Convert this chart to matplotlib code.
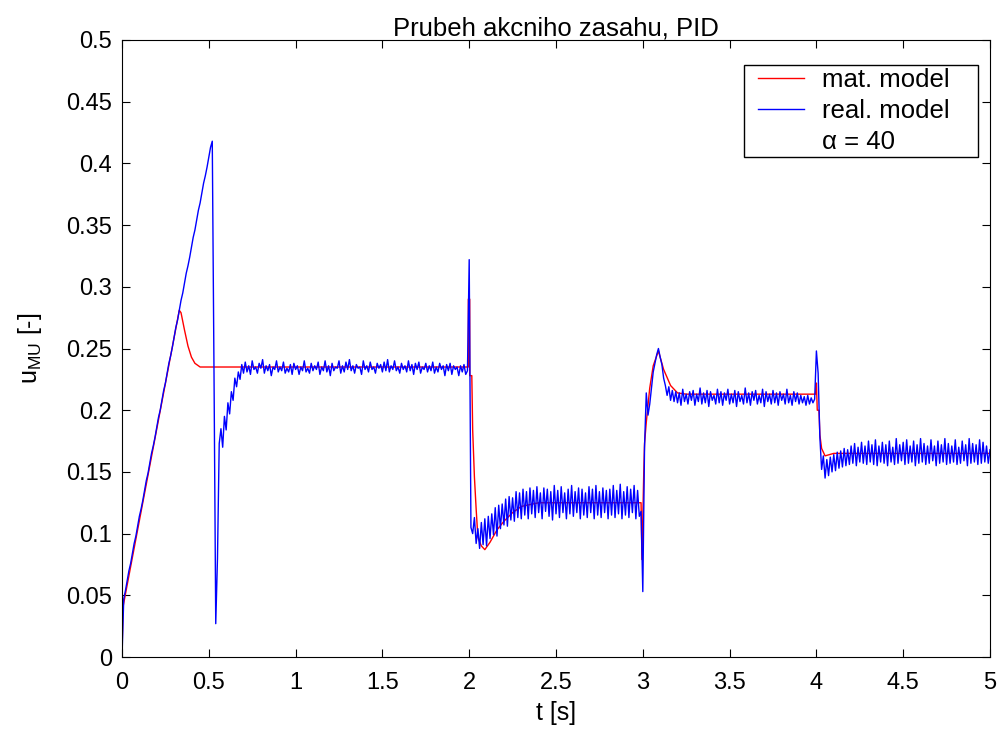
import numpy as np
import matplotlib
matplotlib.use('Agg')
import matplotlib.pyplot as plt
from matplotlib.lines import Line2D
from matplotlib.patches import Rectangle

plt.rcParams['font.family'] = ['Liberation Sans', 'DejaVu Sans']
plt.rcParams['mathtext.fontset'] = 'custom'
plt.rcParams['mathtext.rm'] = 'Liberation Sans'

# mat. model (red) - (t, u) pairs
red_t = [0.0, 0.005, 0.33, 0.34, 0.36, 0.38, 0.40, 0.42, 0.45, 1.995, 1.995, 2.003, 2.003, 2.015,
         2.02, 2.03, 2.04, 2.05, 2.07, 2.09, 2.12, 2.16, 2.2, 2.25, 2.3, 2.4, 2.99, 2.995, 3.005,
         3.01, 3.02, 3.04, 3.06, 3.09, 3.12, 3.16, 3.2, 3.25, 3.995, 4.0, 4.005, 4.015, 4.02, 4.03,
         4.05, 4.1, 5.0]
red_u = [0.0, 0.04, 0.281, 0.279, 0.265, 0.252, 0.243, 0.238, 0.235, 0.235, 0.29, 0.29, 0.228, 0.228,
         0.184, 0.146, 0.12, 0.097, 0.090, 0.087, 0.093, 0.103, 0.110, 0.117, 0.122, 0.125, 0.125, 0.079, 0.146,
         0.173, 0.19, 0.218, 0.236, 0.248, 0.233, 0.22, 0.214, 0.213, 0.213, 0.222, 0.2, 0.2, 0.18, 0.169,
         0.163, 0.165, 0.165]

# real. model (blue) - sampled every 0.01 s
ramp = [0.000, 0.047, 0.054, 0.062, 0.070, 0.076, 0.084, 0.092, 0.098, 0.106,
        0.114, 0.120, 0.127, 0.135, 0.143, 0.149, 0.157, 0.165, 0.171, 0.178,
        0.186, 0.194, 0.200, 0.208, 0.216, 0.222, 0.230, 0.238, 0.244, 0.251,
        0.259, 0.267, 0.273, 0.281, 0.289, 0.295, 0.303, 0.311, 0.317, 0.324,
        0.332, 0.340, 0.346, 0.354, 0.362, 0.368, 0.376, 0.384, 0.390, 0.397,
        0.405, 0.413, 0.418]
drop = [0.230, 0.027, 0.080, 0.173, 0.185, 0.170, 0.195, 0.184, 0.206, 0.197,
        0.215, 0.208, 0.226, 0.219, 0.231, 0.225, 0.237, 0.230]
steady1 = [0.239, 0.231, 0.236, 0.229, 0.240, 0.233, 0.235, 0.230, 0.238, 0.234,
           0.241, 0.230, 0.236, 0.232, 0.237, 0.228, 0.235, 0.233, 0.240, 0.231,
           0.235, 0.232, 0.239, 0.230, 0.234, 0.231, 0.237, 0.229, 0.238, 0.233,
           0.236, 0.229, 0.235, 0.232, 0.240, 0.231, 0.234, 0.230, 0.238, 0.232,
           0.236, 0.233, 0.239, 0.229, 0.235, 0.232, 0.240, 0.231, 0.236, 0.228,
           0.238, 0.232, 0.235, 0.234, 0.240, 0.230, 0.236, 0.231, 0.239, 0.233,
           0.241, 0.232, 0.236, 0.230, 0.237, 0.234, 0.235, 0.229, 0.240, 0.233,
           0.236, 0.231, 0.239, 0.233, 0.235, 0.230, 0.238, 0.234, 0.237, 0.231,
           0.239, 0.232, 0.241, 0.231, 0.236, 0.233, 0.240, 0.232, 0.235, 0.230,
           0.238, 0.233, 0.236, 0.231, 0.240, 0.232, 0.237, 0.229, 0.238, 0.233,
           0.239, 0.230, 0.235, 0.233, 0.238, 0.231, 0.236, 0.232, 0.239, 0.230,
           0.235, 0.231, 0.238, 0.233, 0.236, 0.228, 0.237, 0.232, 0.238, 0.229,
           0.236, 0.233, 0.235, 0.228, 0.236, 0.231, 0.237, 0.229, 0.232]
step2 = [0.322,
         0.105, 0.100, 0.113, 0.092, 0.104, 0.088, 0.109, 0.091, 0.112, 0.090,
         0.114, 0.096, 0.116, 0.099, 0.121, 0.098, 0.123, 0.104, 0.124, 0.107,
         0.128, 0.106, 0.130, 0.111, 0.129, 0.110, 0.134, 0.113, 0.133, 0.112,
         0.136, 0.115, 0.134, 0.112, 0.137, 0.116, 0.135, 0.113, 0.138, 0.117,
         0.133, 0.112, 0.137, 0.118, 0.136, 0.114, 0.134, 0.111, 0.139, 0.116,
         0.135, 0.113, 0.138, 0.117, 0.133, 0.112, 0.136, 0.116, 0.139, 0.114,
         0.134, 0.117, 0.137, 0.112, 0.136, 0.115, 0.133, 0.113, 0.138, 0.117,
         0.136, 0.112, 0.139, 0.115, 0.134, 0.113, 0.137, 0.117, 0.135, 0.112,
         0.136, 0.115, 0.139, 0.113, 0.135, 0.116, 0.140, 0.112, 0.134, 0.115,
         0.138, 0.113, 0.136, 0.117, 0.139, 0.112, 0.135, 0.114, 0.118]
step3 = [0.053,
         0.170, 0.214, 0.196, 0.205, 0.218, 0.231, 0.238, 0.245, 0.250, 0.243,
         0.237, 0.226, 0.220, 0.212, 0.219, 0.208, 0.216, 0.207, 0.215, 0.206,
         0.214, 0.204, 0.217, 0.207, 0.213, 0.205, 0.215, 0.208, 0.216, 0.204,
         0.213, 0.207, 0.218, 0.205, 0.214, 0.206, 0.216, 0.203, 0.215, 0.208,
         0.212, 0.205, 0.217, 0.206, 0.215, 0.204, 0.214, 0.208, 0.217, 0.205,
         0.213, 0.206, 0.216, 0.203, 0.215, 0.207, 0.212, 0.205, 0.218, 0.206,
         0.214, 0.204, 0.215, 0.208, 0.216, 0.205, 0.212, 0.206, 0.217, 0.203,
         0.215, 0.207, 0.213, 0.205, 0.216, 0.206, 0.214, 0.204, 0.215, 0.208,
         0.213, 0.205, 0.217, 0.206, 0.212, 0.204, 0.215, 0.207, 0.214, 0.205,
         0.212, 0.206, 0.211, 0.204, 0.212, 0.205, 0.210, 0.206, 0.209]
step4 = [0.248,
         0.230, 0.178, 0.152, 0.163, 0.145, 0.160, 0.147, 0.162, 0.150, 0.164,
         0.151, 0.166, 0.153, 0.167, 0.154, 0.169, 0.155, 0.168, 0.156, 0.171,
         0.157, 0.173, 0.155, 0.170, 0.158, 0.174, 0.157, 0.171, 0.156, 0.175,
         0.158, 0.172, 0.156, 0.176, 0.155, 0.171, 0.158, 0.174, 0.157, 0.172,
         0.155, 0.175, 0.158, 0.170, 0.156, 0.177, 0.157, 0.172, 0.159, 0.174,
         0.156, 0.176, 0.157, 0.171, 0.158, 0.175, 0.155, 0.172, 0.157, 0.177,
         0.158, 0.173, 0.156, 0.171, 0.157, 0.176, 0.159, 0.171, 0.155, 0.175,
         0.157, 0.172, 0.158, 0.177, 0.156, 0.173, 0.157, 0.171, 0.158, 0.176,
         0.156, 0.170, 0.157, 0.175, 0.159, 0.172, 0.155, 0.177, 0.157, 0.173,
         0.158, 0.172, 0.156, 0.176, 0.157, 0.174, 0.158, 0.171, 0.157, 0.168]

blue_u = ramp + drop + steady1 + step2 + step3 + step4
blue_t = np.arange(len(blue_u)) * 0.01

x_ticks = [0, 0.5, 1, 1.5, 2, 2.5, 3, 3.5, 4, 4.5, 5]
y_ticks = [0, 0.05, 0.1, 0.15, 0.2, 0.25, 0.3, 0.35, 0.4, 0.45, 0.5]
legend_labels = ['mat. model', 'real. model', 'α = 40']

fig = plt.figure(figsize=(10.03, 7.29), dpi=100)
ax = fig.add_axes([122/1003, 1 - 657/729, (990-122)/1003, (657-40)/729])

ax.plot(red_t, red_u, color='#ff0000', lw=1.0)
ax.plot(blue_t, blue_u, color='#0000ff', lw=1.0)

ax.set_xlim(0, 5)
ax.set_ylim(0, 0.5)
ax.set_xticks(x_ticks)
ax.set_xticklabels([('%g' % v) for v in x_ticks])
ax.set_yticks(y_ticks)
ax.set_yticklabels([('%g' % v) for v in y_ticks])
ax.tick_params(direction='in', length=6, width=0.8, labelsize=17, top=True, right=True)
ax.tick_params(axis='y', pad=7)
ax.tick_params(axis='x', pad=11)

ax.set_title('Prubeh akcniho zasahu, PID', fontsize=18.5, pad=3)
ax.set_xlabel('t [s]', fontsize=18, labelpad=5)
ax.set_ylabel(r'u$_{\mathrm{MU}}$ [-]', fontsize=18, labelpad=16)

# legend: matlab style box with wide right margin
box = Rectangle((0.7166, 0.8104), 0.9862 - 0.7166, 0.9595 - 0.8104, transform=ax.transAxes,
                facecolor='white', edgecolor='black', lw=1.0, zorder=4)
ax.add_patch(box)
handles = [Line2D([], [], color='#ff0000', lw=1.0),
           Line2D([], [], color='#0000ff', lw=1.0),
           Line2D([], [], color='none', lw=0)]
leg = ax.legend(handles, legend_labels, loc='upper left',
                bbox_to_anchor=(0.7327, 0.9547), borderaxespad=0, borderpad=0,
                fontsize=18.5, frameon=False, handlelength=1.8, handletextpad=0.7,
                labelspacing=0.28)
leg.set_zorder(5)

fig.savefig('out.png', dpi=100)
